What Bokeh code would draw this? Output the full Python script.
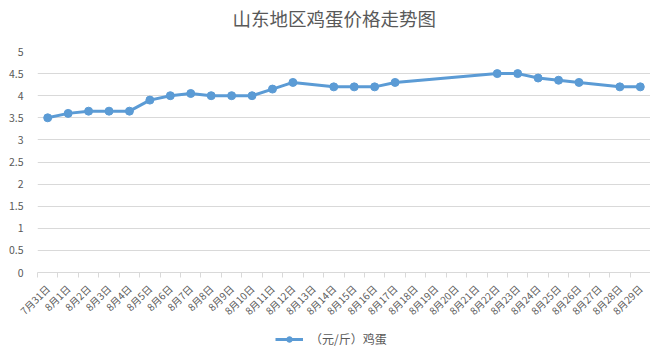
import numpy as np
from bokeh.plotting import figure
from bokeh.layouts import column
from bokeh.models import (FixedTicker, Legend, LegendItem, Range1d, Title,
                          CustomJSTickFormatter)
from bokeh.embed import file_html
from bokeh.resources import INLINE

# ---- data -------------------------------------------------------------
categories = ["7月31日", "8月1日", "8月2日", "8月3日", "8月4日", "8月5日",
              "8月6日", "8月7日", "8月8日", "8月9日", "8月10日", "8月11日",
              "8月12日", "8月13日", "8月14日", "8月15日", "8月16日",
              "8月17日", "8月18日", "8月19日", "8月20日", "8月21日",
              "8月22日", "8月23日", "8月24日", "8月25日", "8月26日",
              "8月27日", "8月28日", "8月29日"]
price_dates = ["7月31日", "8月1日", "8月2日", "8月3日", "8月4日", "8月5日",
               "8月6日", "8月7日", "8月8日", "8月9日", "8月10日", "8月11日",
               "8月12日", "8月14日", "8月15日", "8月16日", "8月17日",
               "8月22日", "8月23日", "8月24日", "8月25日", "8月26日",
               "8月28日", "8月29日"]
prices = [3.5, 3.6, 3.65, 3.65, 3.65, 3.9, 4.0, 4.05, 4.0, 4.0, 4.0, 4.15,
          4.3, 4.2, 4.2, 4.2, 4.3, 4.5, 4.5, 4.4, 4.35, 4.3, 4.2, 4.2]
y_ticks = [0, 0.5, 1, 1.5, 2, 2.5, 3, 3.5, 4, 4.5, 5]
series_name = "（元/斤）鸡蛋"
title_text = "山东地区鸡蛋价格走势图"

# ---- style ------------------------------------------------------------
FONT = "Noto Sans CJK SC"
GRAY = "#595959"
GRID = "#d9d9d9"
BLUE = "#5B9BD5"

n = len(categories)
xs = [categories.index(d) + 0.5 for d in price_dates]

# ---- main chart ---------------------------------------------------------
p = figure(width=650, height=326, output_backend="svg", toolbar_location=None,
           title=None, x_range=Range1d(0, n), y_range=Range1d(0, 5),
           min_border_left=37, min_border_right=0, min_border_top=51,
           min_border_bottom=54)

# spacer between the frame and the title (stacked nearest the frame)
p.add_layout(Title(text=" ", text_font_size="1px", standoff=17), "above")
p.add_layout(Title(text=title_text, align="left", offset=195, standoff=2,
                   text_font=FONT, text_font_size="18.5px",
                   text_font_style="normal", text_color=GRAY), "above")

p.outline_line_color = None
p.xgrid.grid_line_color = None
p.ygrid.grid_line_color = GRID
p.ygrid.ticker = FixedTicker(ticks=y_ticks)

p.yaxis.ticker = FixedTicker(ticks=y_ticks)
p.yaxis.formatter = CustomJSTickFormatter(code="return tick.toString();")
p.yaxis.axis_line_color = None
p.yaxis.major_tick_line_color = None
p.yaxis.minor_tick_line_color = None
p.yaxis.major_label_text_font = FONT
p.yaxis.major_label_text_font_size = "10.5px"
p.yaxis.major_label_text_color = GRAY
p.yaxis.major_label_standoff = 8

p.xaxis.ticker = FixedTicker(ticks=[i + 0.5 for i in range(n)],
                             minor_ticks=list(range(n + 1)))
p.xaxis.formatter = CustomJSTickFormatter(
    args=dict(labels=categories),
    code="const i = Math.round(tick - 0.5); return labels[i] || '';")
p.xaxis.axis_line_color = GRID
p.xaxis.major_tick_line_color = None
p.xaxis.minor_tick_line_color = GRID
p.xaxis.minor_tick_in = 0
p.xaxis.minor_tick_out = 5
p.xaxis.major_label_orientation = np.pi / 4
p.xaxis.major_label_text_font = FONT
p.xaxis.major_label_text_font_size = "10px"
p.xaxis.major_label_text_color = GRAY
p.xaxis.major_label_standoff = 8

p.line(xs, prices, line_color=BLUE, line_width=3)
p.scatter(xs, prices, size=8, fill_color=BLUE, line_color=BLUE)

# ---- legend strip -------------------------------------------------------
lg = figure(width=650, height=22, output_backend="svg", toolbar_location=None,
            x_range=Range1d(0, 1), y_range=Range1d(0, 1),
            x_axis_type=None, y_axis_type=None, min_border=0)
lg.outline_line_color = None
lg.grid.visible = False
# keys sit outside the visible range: only their legend glyphs show
key_line = lg.line(x=[2, 3], y=[2, 2], line_color=BLUE, line_width=3)
key_dot = lg.scatter(x=[2], y=[2], size=8, fill_color=BLUE, line_color=BLUE)
legend = Legend(items=[LegendItem(label=series_name,
                                  renderers=[key_line, key_dot])],
                location=(238, 1), orientation="horizontal",
                border_line_color=None, background_fill_alpha=0,
                label_text_font=FONT, label_text_font_size="12px",
                label_text_color=GRAY, glyph_width=28, glyph_height=14,
                label_standoff=7, padding=0, margin=0, spacing=0)
lg.add_layout(legend, "center")

layout = column(p, lg, spacing=0)
open("out.html", "w").write(file_html(layout, INLINE))
